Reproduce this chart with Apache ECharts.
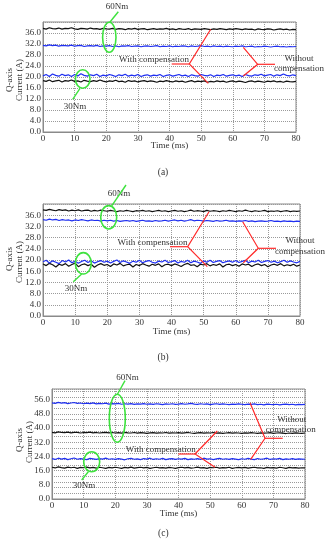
<!DOCTYPE html>
<html><head><meta charset="utf-8">
<script src="https://cdn.jsdelivr.net/npm/echarts@6/dist/echarts.min.js"></script>
<style>html,body{margin:0;padding:0;background:#fff}#c{width:330px;height:550px}</style>
</head><body><div id="c"></div>
<script>
// ---- data ----
const timeMs = [0,1,2,3,4,5,6,7,8,9,10,11,12,13,14,15,16,17,18,19,
  20,21,22,23,24,25,26,27,28,29,30,31,32,33,34,35,36,37,38,39,
  40,41,42,43,44,45,46,47,48,49,50,51,52,53,54,55,56,57,58,59,
  60,61,62,63,64,65,66,67,68,69,70,71,72,73,74,75,76,77,78,79,80];
const xTicks = [0,10,20,30,40,50,60,70,80];

// panel (a)
const aBlack60 = [37.7,37.4,37.9,37.6,37.5,37.8,37.4,37.7,37.6,37.9,37.5,37.3,37.7,37.6,37.4,37.8,37.5,37.6,37.3,37.7,
  37.5,37.4,37.7,37.3,37.6,37.5,37.2,37.6,37.4,37.7,37.3,37.5,37.6,37.2,37.4,37.6,37.3,37.5,37.4,37.7,
  37.3,37.5,37.2,37.6,37.4,37.3,37.6,37.2,37.5,37.4,37.3,37.6,37.4,37.2,37.5,37.3,37.6,37.4,37.2,37.5,
  37.3,37.6,37.4,37.2,37.5,37.3,37.4,37.1,37.5,37.3,37.2,37.5,37.4,37.1,37.3,37.5,37.2,37.4,37.1,37.3,37.2];
const aBlue60 = [31.5,31.3,31.7,31.4,31.6,31.2,31.5,31.4,31.3,31.6,31.2,31.4,31.5,31.1,31.3,31.4,31.2,31.5,31.1,31.3,
  31.2,31.4,31.1,31.3,31.0,31.3,31.2,31.4,31.1,31.2,31.3,31.0,31.2,31.3,31.1,31.2,31.4,31.0,31.2,31.1,
  31.3,31.0,31.2,31.1,31.3,31.2,31.0,31.3,31.1,31.2,31.4,31.1,31.2,31.0,31.3,31.1,31.2,31.0,31.2,31.1,
  31.0,31.2,31.1,31.3,31.0,31.1,31.2,30.9,31.1,31.0,31.2,31.1,30.9,31.1,31.2,31.0,31.1,30.9,31.1,31.0,31.1];
const aBlue30 = [20.4,20.9,20.2,21.1,20.6,20.3,21.0,20.5,20.8,20.2,20.9,20.4,21.2,20.6,20.3,20.8,20.5,21.0,20.2,20.7,
  20.4,20.9,20.6,20.2,20.8,20.5,21.0,20.3,20.7,20.4,20.9,20.2,20.6,20.8,20.3,20.7,20.5,20.9,20.2,20.6,
  20.8,20.3,20.6,20.9,20.4,20.7,20.2,20.8,20.5,20.3,20.9,20.6,20.4,20.8,20.2,20.7,20.5,20.9,20.3,20.6,
  20.8,20.4,20.7,20.2,20.9,20.5,20.3,20.8,20.6,21.0,20.4,20.7,20.9,20.3,20.8,20.5,21.1,20.6,20.4,20.8,20.5];
const aBlack30 = [18.7,18.4,18.9,18.3,18.6,18.8,18.2,18.7,18.5,18.9,18.4,18.6,18.2,18.8,18.5,18.3,18.7,18.4,18.9,18.5,
  18.2,18.6,18.4,18.8,18.3,18.5,18.1,18.7,18.4,18.6,18.2,18.5,18.7,18.3,18.6,18.4,18.1,18.5,18.3,18.7,
  18.4,18.2,18.6,18.3,18.5,18.1,18.4,18.7,18.2,18.5,18.3,18.6,18.1,18.4,18.2,18.6,18.3,18.5,18.1,18.4,
  18.6,18.2,18.5,18.3,18.0,18.4,18.6,18.2,18.5,18.3,18.1,18.5,18.3,18.6,18.2,18.4,18.1,18.5,18.3,18.2,18.4];

// panel (b)
const bBlack60 = [37.9,37.7,38.1,37.8,37.6,38.0,37.7,37.9,37.5,37.8,37.6,37.9,37.5,37.7,37.8,37.4,37.7,37.5,37.8,37.6,
  37.4,37.7,37.5,37.3,37.6,37.4,37.7,37.5,37.3,37.6,37.5,37.7,37.4,37.6,37.3,37.5,37.7,37.4,37.6,37.3,
  37.5,37.7,37.4,37.6,37.3,37.5,37.8,37.4,37.6,37.5,37.3,37.7,37.4,37.6,37.5,37.3,37.6,37.4,37.7,37.5,
  37.3,37.6,37.4,37.8,37.5,37.3,37.6,37.4,37.5,37.7,37.3,37.5,37.4,37.6,37.3,37.5,37.6,37.3,37.5,37.4,37.5];
const bBlue60 = [34.4,34.2,34.6,34.3,34.5,34.1,34.4,34.2,34.3,34.0,34.3,34.1,34.4,34.2,34.0,34.3,34.1,34.2,33.9,34.2,
  34.0,34.2,33.9,34.1,33.8,34.0,34.1,33.9,34.1,33.8,34.0,34.2,33.9,34.0,33.8,34.1,33.9,34.0,34.2,33.9,
  34.1,34.3,34.0,34.2,33.9,34.1,34.4,34.0,34.2,34.1,33.9,34.1,34.0,33.8,34.1,33.9,34.0,34.2,33.9,34.0,
  33.8,34.0,33.9,34.1,33.8,34.0,33.7,33.9,34.0,33.8,33.9,34.1,33.8,33.9,33.7,34.0,33.8,33.9,33.7,33.9,33.8];
const bBlue30 = [19.4,19.9,18.9,19.7,19.2,18.7,19.8,19.3,20.0,19.0,19.6,18.8,19.5,19.9,19.1,19.7,18.9,19.4,19.8,19.2,
  19.6,18.9,19.5,20.0,19.1,19.7,19.3,18.8,19.6,19.2,19.9,19.0,19.5,19.8,19.2,18.9,19.6,19.3,19.9,19.1,
  19.4,19.8,18.9,19.5,19.2,19.9,19.0,19.6,19.3,18.8,19.7,19.2,19.9,19.1,19.5,19.8,19.0,19.4,19.7,19.2,
  19.8,19.1,19.5,19.9,19.0,19.6,19.3,19.9,19.1,19.5,19.8,19.2,19.6,19.0,19.4,19.9,19.2,19.7,19.3,19.0,19.5];
const bBlack30 = [18.6,18.0,18.8,18.3,17.5,18.5,18.1,18.7,17.8,18.4,18.9,17.6,18.3,18.6,18.0,18.5,17.4,18.2,18.7,18.1,
  18.4,17.7,18.6,18.2,18.8,17.9,18.3,18.5,17.5,18.4,18.0,18.7,18.2,17.8,18.5,18.1,18.6,17.6,18.3,18.5,
  18.0,18.6,18.2,17.7,18.4,18.8,18.1,18.3,17.6,18.5,18.2,18.7,17.9,18.4,18.1,18.6,17.5,18.3,18.5,18.0,
  18.4,17.8,18.6,18.2,18.5,17.7,18.3,18.6,18.0,18.4,17.6,18.2,18.5,18.1,18.7,17.9,18.3,18.0,18.5,17.8,18.2];

// panel (c)
const cBlue60 = [54.2,53.9,54.5,54.0,54.3,53.8,54.1,54.4,53.9,54.1,53.7,54.0,53.8,54.2,53.6,53.9,53.7,54.0,53.5,53.8,
  53.6,53.9,53.4,53.7,53.5,53.8,53.3,53.6,53.5,53.8,53.4,53.6,53.3,53.7,53.5,53.2,53.6,53.4,53.7,53.3,
  53.5,53.8,53.4,53.6,53.9,53.5,53.3,53.7,53.4,53.6,53.2,53.5,53.7,53.3,53.6,53.4,53.2,53.5,53.3,53.6,
  53.4,53.2,53.5,53.3,53.6,53.2,53.4,53.1,53.5,53.3,53.2,53.4,53.1,53.3,53.5,53.2,53.4,53.1,53.3,53.2,53.3];
const cBlack60 = [37.6,37.3,37.8,37.5,37.4,37.7,37.3,37.5,37.6,37.2,37.5,37.4,37.7,37.3,37.5,37.2,37.4,37.6,37.3,37.5,
  37.2,37.4,37.1,37.5,37.3,37.2,37.5,37.1,37.4,37.3,37.0,37.3,37.4,37.1,37.3,37.2,37.5,37.1,37.3,37.2,
  37.4,37.1,37.3,37.5,37.2,37.0,37.3,37.4,37.1,37.3,37.2,37.5,37.1,37.3,37.0,37.2,37.4,37.1,37.3,37.2,
  37.0,37.3,37.1,37.4,37.2,37.0,37.3,37.1,37.2,37.4,37.0,37.2,37.3,37.1,36.9,37.2,37.0,37.3,37.1,37.0,37.2];
const cBlue30 = [22.8,22.3,23.0,22.5,22.9,22.2,22.7,23.1,22.4,22.8,22.5,22.2,22.9,22.6,22.3,22.8,22.5,23.0,22.4,22.7,
  22.3,22.8,22.5,22.1,22.7,22.9,22.4,22.6,22.2,22.8,22.5,23.0,22.3,22.7,22.4,22.9,22.2,22.6,22.8,22.3,
  22.7,22.5,22.9,22.2,22.6,22.4,22.8,22.3,23.0,22.5,22.7,22.2,22.6,22.9,22.4,22.7,22.3,22.8,22.5,22.2,
  22.7,22.4,22.9,22.5,22.2,22.8,22.4,22.6,23.0,22.3,22.7,22.5,22.9,22.2,22.6,22.4,22.8,22.3,22.6,22.5,22.4];
const cBlack30 = [17.9,17.5,18.1,17.7,17.4,18.0,17.6,17.9,17.3,17.8,17.6,18.0,17.5,17.8,17.4,17.9,17.6,17.3,17.8,17.5,
  17.9,17.6,17.3,17.8,17.5,18.0,17.4,17.7,17.9,17.5,17.8,17.3,17.6,17.9,17.5,17.7,17.4,17.8,17.6,17.3,
  17.7,17.9,17.5,17.8,17.4,17.6,18.0,17.5,17.7,17.3,17.8,17.6,17.9,17.4,17.7,17.5,17.9,17.3,17.6,17.8,
  17.5,17.8,17.4,17.7,17.9,17.5,17.6,17.3,17.8,17.5,17.7,17.4,17.9,17.6,17.3,17.8,17.5,17.7,17.4,17.6,17.5];

const yTicksAB = [0,4,8,12,16,20,24,28,32,36];
const yTicksC = [0,8,16,24,32,40,48,56];

// ---- chart ----
const SERIF = 'Liberation Serif';
const GRAY = '#8a8a8a';
const BLUE = '#1f2ff0';
const BLACK = '#111111';
const GREEN = '#3ee23e';
const RED = '#ff2a2a';

const grids = [
  {left: 43, top: 22, width: 253, height: 110},
  {left: 43, top: 204, width: 257, height: 112},
  {left: 52, top: 389, width: 253, height: 110}
].map(g => Object.assign({show: true, borderColor: GRAY, borderWidth: 1, containLabel: false}, g));

function xAxisFor(i) {
  return {
    gridIndex: i, type: 'value', min: xTicks[0], max: xTicks[xTicks.length - 1],
    interval: xTicks[1] - xTicks[0],
    axisLine: {show: true, lineStyle: {color: GRAY}},
    axisTick: {show: false},
    axisLabel: {fontFamily: SERIF, fontSize: 9, color: '#333', margin: 2},
    splitLine: {show: true, lineStyle: {type: 'dotted', color: '#9a9a9a', width: 1}}
  };
}
function yAxisFor(i, ticks, max, showSplit) {
  return {
    gridIndex: i, type: 'value', min: 0, max: max, interval: ticks[1] - ticks[0],
    axisLine: {show: true, lineStyle: {color: GRAY}},
    axisTick: {show: false},
    axisLabel: {fontFamily: SERIF, fontSize: 9, color: '#333', margin: 2, showMaxLabel: false,
      formatter: v => ticks.indexOf(v) >= 0 ? v.toFixed(1) : ''},
    splitLine: {show: showSplit, lineStyle: {type: 'dotted', color: '#9a9a9a', width: 1}}
  };
}

const yAxes = [
  yAxisFor(0, yTicksAB, 40, true),
  yAxisFor(1, yTicksAB, 40, true),
  yAxisFor(2, yTicksC, 62, false),
  {gridIndex: 2, type: 'value', min: 0, max: 62, interval: 3.2,
   axisLine: {show: false}, axisTick: {show: false}, axisLabel: {show: false},
   splitLine: {show: true, lineStyle: {type: 'dotted', color: '#9a9a9a', width: 1}}}
];

function pairs(vals) { return timeMs.map((t, k) => [t, vals[k]]); }
function ser(vals, color, xi, yi) {
  return {type: 'line', xAxisIndex: xi, yAxisIndex: yi, data: pairs(vals), symbol: 'none',
    lineStyle: {color: color, width: 1.2}, itemStyle: {color: color}, silent: true, z: 3};
}
const series = [
  ser(aBlack60, BLACK, 0, 0), ser(aBlue60, BLUE, 0, 0), ser(aBlack30, BLACK, 0, 0), ser(aBlue30, BLUE, 0, 0),
  ser(bBlack60, BLACK, 1, 1), ser(bBlue60, BLUE, 1, 1), ser(bBlack30, BLACK, 1, 1), ser(bBlue30, BLUE, 1, 1),
  ser(cBlack60, BLACK, 2, 2), ser(cBlue60, BLUE, 2, 2), ser(cBlack30, BLACK, 2, 2), ser(cBlue30, BLUE, 2, 2)
];

// ---- annotations (pixel layout) ----
const G = [];
function txt(x, y, s, size, rot) {
  G.push({type: 'text', x: x, y: y, rotation: rot || 0, z: 10,
    style: {text: s, font: (size || 9) + 'px "' + SERIF + '"', fill: '#333',
      textAlign: 'center', textVerticalAlign: 'middle', align: 'center', verticalAlign: 'middle'}});
}
function pl(points, color, w) {
  G.push({type: 'polyline', z: 10, shape: {points: points}, style: {stroke: color, lineWidth: w || 1.2, fill: null}});
}
function ell(cx, cy, rx, ry) {
  G.push({type: 'ellipse', z: 10, shape: {cx: cx, cy: cy, rx: rx, ry: ry}, style: {stroke: GREEN, lineWidth: 1.6, fill: null}});
}
const R90 = Math.PI / 2;

// panel a
txt(10, 80, 'Q-axis', 9, R90); txt(20, 80, 'Current (A)', 9, R90);
txt(169.5, 145.5, 'Time (ms)', 9); txt(163, 172.7, '(a)', 9.5);
txt(117, 7, '60Nm'); pl([[118.3, 11.7], [110, 22]], GREEN, 1.4); ell(109.3, 37.3, 6.7, 15);
ell(82.7, 79, 7.3, 9.3); pl([[80, 88.3], [72.7, 99.3]], GREEN, 1.4); txt(75, 106.7, '30Nm');
txt(154, 60, 'With compensation');
pl([[171.7, 64], [189.3, 64]], RED); pl([[210.7, 29.3], [189.3, 64], [208.3, 83.3]], RED);
pl([[275, 64.3], [257.7, 64.3]], RED); pl([[243.3, 47.3], [257.7, 64.3], [243.3, 76]], RED);
txt(299, 58.3, 'Without'); txt(299, 69, 'compensation');

// panel b
txt(10, 259, 'Q-axis', 9, R90); txt(19.5, 262, 'Current (A)', 9, R90);
txt(171.5, 331.5, 'Time (ms)', 9); txt(163, 357, '(b)', 9.5);
txt(119, 194, '60Nm'); pl([[126, 185], [111.7, 205.8]], GREEN, 1.4); ell(108.7, 217.3, 8, 11.7);
ell(83.3, 263.3, 8, 10.7); pl([[81.7, 274], [73.3, 281.7]], GREEN, 1.4); txt(76, 288.3, '30Nm');
txt(152.5, 242.7, 'With compensation');
pl([[170, 246.7], [187.7, 246.7]], RED); pl([[209, 211.7], [187.7, 246.7], [207.3, 266.7]], RED);
pl([[276, 248.3], [258.3, 248.3]], RED); pl([[242.7, 221.7], [258.3, 248.3], [243.3, 262.7]], RED);
txt(300, 241, 'Without'); txt(300, 251.7, 'compensation');

// panel c
txt(20, 440, 'Q-axis', 9, R90); txt(30, 442, 'Current (A)', 9, R90);
txt(178.5, 514, 'Time (ms)', 9); txt(163.3, 533.3, '(c)', 9.5);
txt(127.5, 377.3, '60Nm'); pl([[125, 380.7], [117.3, 394.5]], GREEN, 1.4); ell(117.3, 418.3, 8, 24);
ell(91.7, 461.7, 8, 10); pl([[88.3, 471.7], [81.7, 480]], GREEN, 1.4); txt(84, 486, '30Nm');
txt(160.8, 450, 'With compensation');
pl([[178.3, 454], [195, 454]], RED); pl([[217.3, 431], [195, 454], [215, 467.3]], RED);
pl([[282.7, 438.3], [265, 438.3]], RED); pl([[250, 402.7], [265, 438.3], [250.7, 459.3]], RED);
txt(291.7, 419.3, 'Without'); txt(290.7, 429.3, 'compensation');

const chart = echarts.init(document.getElementById('c'), null, {renderer: 'canvas'});
chart.setOption({
  animation: false,
  backgroundColor: '#fff',
  grid: grids,
  xAxis: [xAxisFor(0), xAxisFor(1), xAxisFor(2)],
  yAxis: yAxes,
  series: series,
  graphic: {elements: G}
});
</script>
</body></html>
